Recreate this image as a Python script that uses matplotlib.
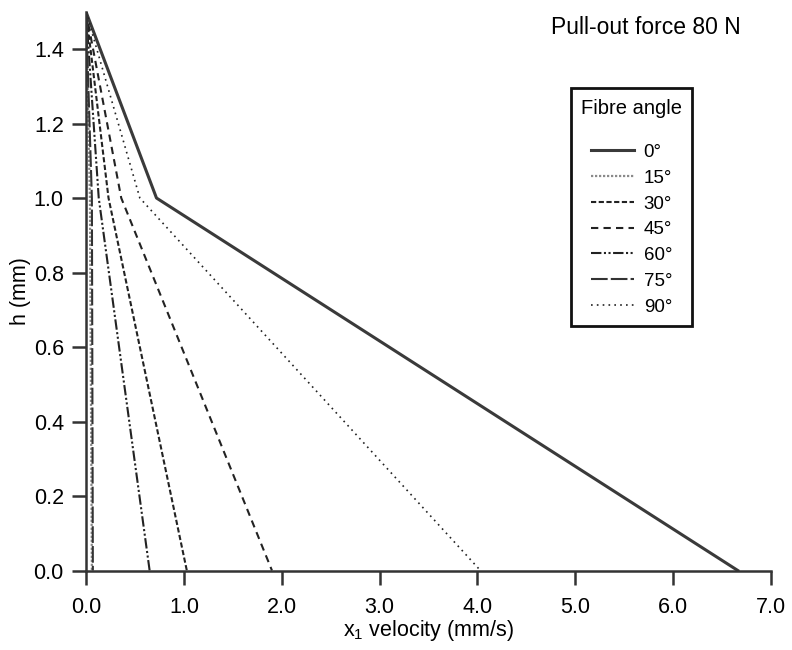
import numpy as np
from matplotlib import pyplot as plt

plt.rcParams['font.family'] = ['Liberation Sans', 'DejaVu Sans']
plt.rcParams['mathtext.fontset'] = 'custom'
plt.rcParams['mathtext.rm'] = 'Liberation Sans'

# profile heights (mm): top, knee, bottom
h = [1.5, 1.0, 0.0]

angles = ['0°', '15°', '30°', '45°', '60°', '75°', '90°']
# x1 velocity (mm/s) at each height
v_0 = [0.0, 0.72, 6.66]
v_15 = [0.0, 0.04, 0.06]
v_30 = [0.0, 0.23, 1.03]
v_45 = [0.0, 0.36, 1.90]
v_60 = [0.0, 0.13, 0.65]
v_75 = [0.0, 0.06, 0.07]
v_90 = [0.0, 0.55, 4.03]

profiles = [v_0, v_15, v_30, v_45, v_60, v_75, v_90]
styles = [
    dict(color='#3a3a3a', lw=2.2, ls='-'),
    dict(color='#8a8a8a', lw=1.6, ls=(0, (1, 0.8))),
    dict(color='#222222', lw=1.5, ls=(0, (2.5, 1.2))),
    dict(color='#222222', lw=1.5, ls=(0, (3.5, 2.5))),
    dict(color='#222222', lw=1.5, ls=(0, (5, 1.2, 1, 1.2, 1, 1.2))),
    dict(color='#333333', lw=1.5, ls=(0, (8, 1.5))),
    dict(color='#222222', lw=1.2, ls=(0, (1, 2.5))),
]

fig = plt.figure(figsize=(7.92, 6.5), dpi=100)
ax = fig.add_axes([0.1086, 0.1223, 0.865, 0.8596])

for v, lab, st in zip(profiles, angles, styles):
    ax.plot(v, h, label=lab, **st)

ax.set_xlim(0, 7)
ax.set_ylim(0, 1.5)
ax.set_xticks(np.arange(0, 7.1, 1.0))
ax.set_xticklabels(['%.1f' % t for t in np.arange(0, 7.1, 1.0)])
ax.set_yticks(np.arange(0, 1.41, 0.2))
ax.set_yticklabels(['%.1f' % t for t in np.arange(0, 1.41, 0.2)])

for side in ['top', 'right']:
    ax.spines[side].set_visible(False)
for side in ['left', 'bottom']:
    ax.spines[side].set_linewidth(1.8)
    ax.spines[side].set_color('#333333')
ax.tick_params(direction='out', length=10, width=1.8, color='#333333',
               labelsize=15.5, pad=6)
ax.tick_params(axis='x', pad=9)

ax.set_xlabel(r'x$_\mathrm{1}$ velocity (mm/s)', fontsize=15.5, labelpad=0)
ax.set_ylabel('h (mm)', fontsize=15.5, labelpad=2)

fig.text(0.935, 0.958, 'Pull-out force 80 N', fontsize=16.5, ha='right',
         va='center')

leg = ax.legend(title='Fibre angle', loc='upper left',
                bbox_to_anchor=(0.694, 0.880), fontsize=13.5, title_fontsize=14.5,
                handlelength=2.3, handletextpad=0.5, labelspacing=0.46,
                fancybox=False, edgecolor='#111111', framealpha=1,
                borderpad=0.55, alignment='center')
leg.get_frame().set_linewidth(2)
leg._legend_box.sep = 19

fig.savefig('out.png', dpi=100)
